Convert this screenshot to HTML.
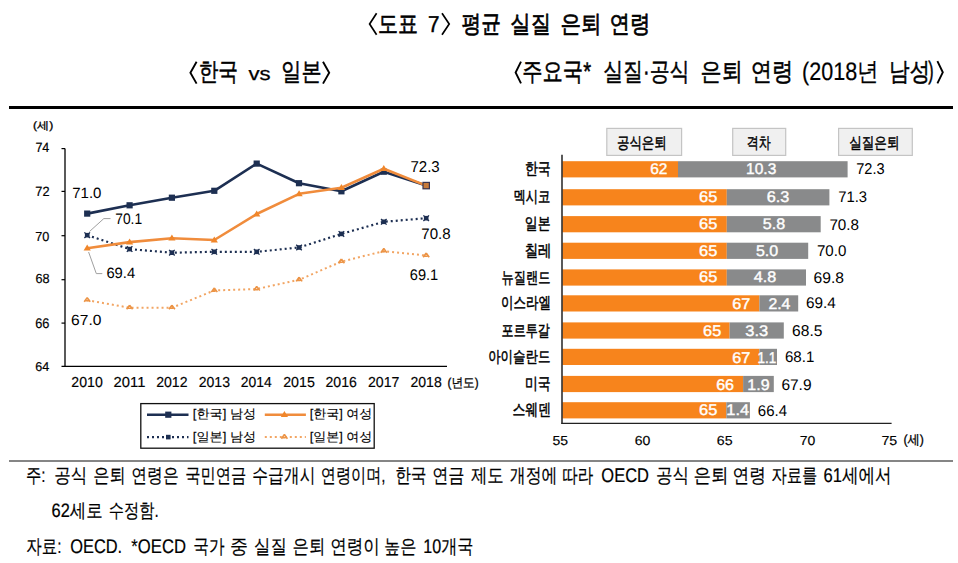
<!DOCTYPE html>
<html><head><meta charset="utf-8"><title>평균 실질 은퇴 연령</title>
<style>html,body{margin:0;padding:0;background:#fff;}svg{display:block;font-family:"Liberation Sans",sans-serif;}</style>
</head><body>
<svg width="958" height="563" viewBox="0 0 958 563" text-rendering="geometricPrecision">
<rect width="958" height="563" fill="#fff"/>
<rect x="9" y="106" width="944" height="3" fill="#000"/>
<rect x="9" y="460" width="944" height="2" fill="#858585"/>
<polyline points="376.6,13.3 369.6,24.0 376.6,34.8" fill="none" stroke="#000" stroke-width="1.7" stroke-linejoin="miter"/>
<polyline points="442.0,13.3 449.2,24.0 442.0,34.8" fill="none" stroke="#000" stroke-width="1.7" stroke-linejoin="miter"/>
<polyline points="196.6,61.8 190.4,72.7 196.6,83.6" fill="none" stroke="#000" stroke-width="1.9" stroke-linejoin="miter"/>
<polyline points="323.0,61.8 329.2,72.7 323.0,83.6" fill="none" stroke="#000" stroke-width="1.9" stroke-linejoin="miter"/>
<polyline points="521.0,61.6 515.6,72.5 521.0,83.4" fill="none" stroke="#000" stroke-width="1.9" stroke-linejoin="miter"/>
<polyline points="937.4,61.2 942.8,72.3 937.4,83.4" fill="none" stroke="#000" stroke-width="1.9" stroke-linejoin="miter"/>
<line x1="65" y1="148.6" x2="65" y2="366.8" stroke="#000" stroke-width="1.3"/>
<line x1="61.5" y1="366.3" x2="447" y2="366.3" stroke="#000" stroke-width="1.3"/>
<line x1="61.5" y1="148.6" x2="65" y2="148.6" stroke="#000" stroke-width="1.2"/>
<line x1="61.5" y1="191.4" x2="65" y2="191.4" stroke="#000" stroke-width="1.2"/>
<line x1="61.5" y1="235.7" x2="65" y2="235.7" stroke="#000" stroke-width="1.2"/>
<line x1="61.5" y1="279.7" x2="65" y2="279.7" stroke="#000" stroke-width="1.2"/>
<line x1="61.5" y1="323.1" x2="65" y2="323.1" stroke="#000" stroke-width="1.2"/>
<polyline points="89.5,231.5 103.8,218.6 110.5,218.6" fill="none" stroke="#a0a0a0" stroke-width="1"/>
<polyline points="88.6,252 96.3,273.6 102.3,273.6" fill="none" stroke="#a0a0a0" stroke-width="1"/>
<polyline points="87.2,300.2 129.6,307.7 171.9,307.7 214.3,290.5 256.7,289.0 299.1,279.8 341.4,261.6 383.8,251.1 426.2,255.6" fill="none" stroke="#f2a563" stroke-width="2" stroke-dasharray="2 3" stroke-linecap="butt"/>
<path d="M87.2 297.6 l-3 4.2 M87.2 297.6 l3 4.2 M85.0 300.8 h3.5" stroke="#ec9446" stroke-width="1.6" fill="none"/>
<path d="M129.6 305.1 l-3 4.2 M129.6 305.1 l3 4.2 M127.4 308.3 h3.5" stroke="#ec9446" stroke-width="1.6" fill="none"/>
<path d="M171.9 305.1 l-3 4.2 M171.9 305.1 l3 4.2 M169.7 308.3 h3.5" stroke="#ec9446" stroke-width="1.6" fill="none"/>
<path d="M214.3 287.9 l-3 4.2 M214.3 287.9 l3 4.2 M212.1 291.1 h3.5" stroke="#ec9446" stroke-width="1.6" fill="none"/>
<path d="M256.7 286.4 l-3 4.2 M256.7 286.4 l3 4.2 M254.5 289.6 h3.5" stroke="#ec9446" stroke-width="1.6" fill="none"/>
<path d="M299.1 277.2 l-3 4.2 M299.1 277.2 l3 4.2 M296.9 280.4 h3.5" stroke="#ec9446" stroke-width="1.6" fill="none"/>
<path d="M341.4 259.0 l-3 4.2 M341.4 259.0 l3 4.2 M339.2 262.2 h3.5" stroke="#ec9446" stroke-width="1.6" fill="none"/>
<path d="M383.8 248.5 l-3 4.2 M383.8 248.5 l3 4.2 M381.6 251.7 h3.5" stroke="#ec9446" stroke-width="1.6" fill="none"/>
<path d="M426.2 253.0 l-3 4.2 M426.2 253.0 l3 4.2 M424.0 256.2 h3.5" stroke="#ec9446" stroke-width="1.6" fill="none"/>
<polyline points="87.2,235.2 129.6,249.1 171.9,252.7 214.3,251.8 256.7,251.8 299.1,247.5 341.4,233.9 383.8,221.8 426.2,218.2" fill="none" stroke="#1d2f52" stroke-width="2.2" stroke-dasharray="2 3"/>
<rect x="84.9" y="232.9" width="4.6" height="4.6" fill="#1d2f52"/>
<path d="M84.4 232.4 l5.6 5.6 M90.0 232.4 l-5.6 5.6" stroke="#1d2f52" stroke-width="1.3" fill="none"/>
<rect x="127.3" y="246.8" width="4.6" height="4.6" fill="#1d2f52"/>
<path d="M126.8 246.3 l5.6 5.6 M132.4 246.3 l-5.6 5.6" stroke="#1d2f52" stroke-width="1.3" fill="none"/>
<rect x="169.6" y="250.4" width="4.6" height="4.6" fill="#1d2f52"/>
<path d="M169.1 249.9 l5.6 5.6 M174.7 249.9 l-5.6 5.6" stroke="#1d2f52" stroke-width="1.3" fill="none"/>
<rect x="212.0" y="249.5" width="4.6" height="4.6" fill="#1d2f52"/>
<path d="M211.5 249.0 l5.6 5.6 M217.1 249.0 l-5.6 5.6" stroke="#1d2f52" stroke-width="1.3" fill="none"/>
<rect x="254.4" y="249.5" width="4.6" height="4.6" fill="#1d2f52"/>
<path d="M253.9 249.0 l5.6 5.6 M259.5 249.0 l-5.6 5.6" stroke="#1d2f52" stroke-width="1.3" fill="none"/>
<rect x="296.8" y="245.2" width="4.6" height="4.6" fill="#1d2f52"/>
<path d="M296.2 244.7 l5.6 5.6 M301.9 244.7 l-5.6 5.6" stroke="#1d2f52" stroke-width="1.3" fill="none"/>
<rect x="339.1" y="231.6" width="4.6" height="4.6" fill="#1d2f52"/>
<path d="M338.6 231.1 l5.6 5.6 M344.2 231.1 l-5.6 5.6" stroke="#1d2f52" stroke-width="1.3" fill="none"/>
<rect x="381.5" y="219.5" width="4.6" height="4.6" fill="#1d2f52"/>
<path d="M381.0 219.0 l5.6 5.6 M386.6 219.0 l-5.6 5.6" stroke="#1d2f52" stroke-width="1.3" fill="none"/>
<rect x="423.9" y="215.9" width="4.6" height="4.6" fill="#1d2f52"/>
<path d="M423.4 215.4 l5.6 5.6 M429.0 215.4 l-5.6 5.6" stroke="#1d2f52" stroke-width="1.3" fill="none"/>
<polyline points="87.2,213.6 129.6,205.3 171.9,197.7 214.3,190.8 256.7,163.6 299.1,183.2 341.4,191.3 383.8,171.7 426.2,185.6" fill="none" stroke="#1d2f52" stroke-width="2.6" stroke-linejoin="round"/>
<rect x="84.1" y="210.5" width="6.2" height="6.2" fill="#1d2f52"/>
<rect x="126.5" y="202.2" width="6.2" height="6.2" fill="#1d2f52"/>
<rect x="168.8" y="194.6" width="6.2" height="6.2" fill="#1d2f52"/>
<rect x="211.2" y="187.7" width="6.2" height="6.2" fill="#1d2f52"/>
<rect x="253.6" y="160.5" width="6.2" height="6.2" fill="#1d2f52"/>
<rect x="295.9" y="180.1" width="6.2" height="6.2" fill="#1d2f52"/>
<rect x="338.3" y="188.2" width="6.2" height="6.2" fill="#1d2f52"/>
<rect x="380.7" y="168.6" width="6.2" height="6.2" fill="#1d2f52"/>
<rect x="423.1" y="182.5" width="6.2" height="6.2" fill="#1d2f52"/>
<polyline points="87.2,248.2 129.6,242.1 171.9,238.2 214.3,240.0 256.7,214.0 299.1,193.8 341.4,187.7 383.8,168.7 426.2,185.6" fill="none" stroke="#f08c3c" stroke-width="2.6" stroke-linejoin="round"/>
<path d="M87.2 244.6 l3.6 6 h-7.2z" fill="#f0862a"/>
<path d="M129.6 238.5 l3.6 6 h-7.2z" fill="#f0862a"/>
<path d="M171.9 234.6 l3.6 6 h-7.2z" fill="#f0862a"/>
<path d="M214.3 236.4 l3.6 6 h-7.2z" fill="#f0862a"/>
<path d="M256.7 210.4 l3.6 6 h-7.2z" fill="#f0862a"/>
<path d="M299.1 190.2 l3.6 6 h-7.2z" fill="#f0862a"/>
<path d="M341.4 184.1 l3.6 6 h-7.2z" fill="#f0862a"/>
<path d="M383.8 165.1 l3.6 6 h-7.2z" fill="#f0862a"/>
<rect x="423.0" y="182.4" width="6.4" height="6.4" fill="#c87a3a" stroke="#3a3550" stroke-width="1.2"/>
<rect x="140.8" y="403.6" width="233.4" height="44.6" fill="#fff" stroke="#111" stroke-width="1.3"/>
<line x1="147" y1="414.7" x2="188.5" y2="414.7" stroke="#1d2f52" stroke-width="2.6"/>
<rect x="165.2" y="411.6" width="6.2" height="6.2" fill="#1d2f52"/>
<line x1="264.8" y1="414.7" x2="305.9" y2="414.7" stroke="#f08c3c" stroke-width="2.6"/>
<path d="M284.4 411.1 l3.6 6 h-7.2z" fill="#f0862a"/>
<line x1="147" y1="437.1" x2="188.5" y2="437.1" stroke="#1d2f52" stroke-width="2.2" stroke-dasharray="2 3"/>
<rect x="166" y="434.8" width="4.6" height="4.6" fill="#1d2f52"/>
<line x1="264.8" y1="437.1" x2="305.9" y2="437.1" stroke="#f2a563" stroke-width="2" stroke-dasharray="2 3"/>
<path d="M284.4 434.5 l-3 4.2 M284.4 434.5 l3 4.2 M282.2 437.7 h3.5" stroke="#ec9446" stroke-width="1.6" fill="none"/>
<rect x="606.8" y="128.4" width="74.8" height="27" fill="#f0f0f0" stroke="#c4c4c4" stroke-width="1.2"/>
<rect x="732.7" y="128.4" width="53.0" height="27" fill="#f0f0f0" stroke="#c4c4c4" stroke-width="1.2"/>
<rect x="838.6" y="128.4" width="73.7" height="27" fill="#f0f0f0" stroke="#c4c4c4" stroke-width="1.2"/>
<rect x="562.5" y="161.2" width="115.5" height="16.2" fill="#f7841c"/>
<rect x="678.0" y="161.2" width="169.6" height="16.2" fill="#898a8b"/>
<rect x="562.5" y="189.2" width="164.3" height="16.2" fill="#f7841c"/>
<rect x="726.8" y="189.2" width="102.6" height="16.2" fill="#898a8b"/>
<rect x="562.5" y="216.1" width="164.3" height="16.2" fill="#f7841c"/>
<rect x="726.8" y="216.1" width="93.9" height="16.2" fill="#898a8b"/>
<rect x="562.5" y="242.7" width="164.3" height="16.2" fill="#f7841c"/>
<rect x="726.8" y="242.7" width="81.4" height="16.2" fill="#898a8b"/>
<rect x="562.5" y="269.4" width="164.3" height="16.2" fill="#f7841c"/>
<rect x="726.8" y="269.4" width="79.2" height="16.2" fill="#898a8b"/>
<rect x="562.5" y="295.3" width="196.9" height="16.2" fill="#f7841c"/>
<rect x="759.4" y="295.3" width="38.8" height="16.2" fill="#898a8b"/>
<rect x="562.5" y="322.4" width="167.1" height="16.2" fill="#f7841c"/>
<rect x="729.6" y="322.4" width="54.2" height="16.2" fill="#898a8b"/>
<rect x="562.5" y="348.8" width="196.9" height="16.2" fill="#f7841c"/>
<rect x="759.4" y="348.8" width="17.6" height="16.2" fill="#898a8b"/>
<rect x="562.5" y="375.9" width="180.6" height="16.2" fill="#f7841c"/>
<rect x="743.1" y="375.9" width="30.7" height="16.2" fill="#898a8b"/>
<rect x="562.5" y="402.2" width="163.8" height="16.2" fill="#f7841c"/>
<rect x="726.3" y="402.2" width="23.6" height="16.2" fill="#898a8b"/>
<line x1="562" y1="154.8" x2="562" y2="424" stroke="#000" stroke-width="1.3"/>
<line x1="561.4" y1="423.4" x2="891.6" y2="423.4" stroke="#222" stroke-width="1.3"/>
<text x="377.94" y="32.12" font-size="24.28" fill="#000" stroke="#000" stroke-width="0.55" textLength="39.98" lengthAdjust="spacingAndGlyphs">도표</text>
<text x="461.58" y="32.12" font-size="24.28" fill="#000" stroke="#000" stroke-width="0.70" textLength="39.27" lengthAdjust="spacingAndGlyphs">평균</text>
<text x="510.37" y="32.12" font-size="24.28" fill="#000" stroke="#000" stroke-width="0.70" textLength="40.53" lengthAdjust="spacingAndGlyphs">실질</text>
<text x="560.46" y="32.12" font-size="24.28" fill="#000" stroke="#000" stroke-width="0.70" textLength="41.05" lengthAdjust="spacingAndGlyphs">은퇴</text>
<text x="609.57" y="32.12" font-size="24.28" fill="#000" stroke="#000" stroke-width="0.70" textLength="40.87" lengthAdjust="spacingAndGlyphs">연령</text>
<text x="427.88" y="31.93" font-size="23.05" fill="#000" stroke="#000" stroke-width="0.50" textLength="11.47" lengthAdjust="spacingAndGlyphs">7</text>
<text x="198.67" y="80.11" font-size="25.02" fill="#000" stroke="#000" stroke-width="0.50" textLength="39.40" lengthAdjust="spacingAndGlyphs">한국</text>
<text x="281.37" y="80.11" font-size="25.02" fill="#000" stroke="#000" stroke-width="0.50" textLength="40.13" lengthAdjust="spacingAndGlyphs">일본</text>
<text x="248.52" y="79.78" font-size="18.84" fill="#000" stroke="#000" stroke-width="0.25" textLength="22.19" lengthAdjust="spacingAndGlyphs">vs</text>
<text x="522.29" y="80.38" font-size="25.36" fill="#000" stroke="#000" stroke-width="0.50" textLength="68.76" lengthAdjust="spacingAndGlyphs">주요국*</text>
<text x="603.21" y="80.38" font-size="25.36" fill="#000" stroke="#000" stroke-width="0.50" textLength="86.26" lengthAdjust="spacingAndGlyphs">실질·공식</text>
<text x="700.61" y="80.38" font-size="25.36" fill="#000" stroke="#000" stroke-width="0.50" textLength="42.17" lengthAdjust="spacingAndGlyphs">은퇴</text>
<text x="750.72" y="80.38" font-size="25.36" fill="#000" stroke="#000" stroke-width="0.50" textLength="42.54" lengthAdjust="spacingAndGlyphs">연령</text>
<text x="889.04" y="80.38" font-size="25.36" fill="#000" stroke="#000" stroke-width="0.50" textLength="41.13" lengthAdjust="spacingAndGlyphs">남성</text>
<text x="802.03" y="80.32" font-size="25.22" fill="#000" stroke="#000" stroke-width="0.20" textLength="76.63" lengthAdjust="spacingAndGlyphs">(2018년</text>
<text x="928.36" y="79.18" font-size="25.14" fill="#000" stroke="#000" stroke-width="0.50" textLength="5.34" lengthAdjust="spacingAndGlyphs">)</text>
<text x="33.06" y="129.26" font-size="10.62" fill="#000" stroke="#000" stroke-width="0.30" textLength="20.14" lengthAdjust="spacingAndGlyphs">(세)</text>
<text x="35.40" y="151.81" font-size="13.30" fill="#000" stroke="#000" stroke-width="0.20" textLength="13.96" lengthAdjust="spacingAndGlyphs">74</text>
<text x="35.32" y="195.80" font-size="13.35" fill="#000" stroke="#000" stroke-width="0.20" textLength="14.20" lengthAdjust="spacingAndGlyphs">72</text>
<text x="35.27" y="240.55" font-size="13.07" fill="#000" stroke="#000" stroke-width="0.20" textLength="14.11" lengthAdjust="spacingAndGlyphs">70</text>
<text x="35.40" y="283.43" font-size="13.27" fill="#000" stroke="#000" stroke-width="0.20" textLength="14.09" lengthAdjust="spacingAndGlyphs">68</text>
<text x="35.24" y="328.36" font-size="13.81" fill="#000" stroke="#000" stroke-width="0.20" textLength="14.27" lengthAdjust="spacingAndGlyphs">66</text>
<text x="35.30" y="370.84" font-size="12.88" fill="#000" stroke="#000" stroke-width="0.20" textLength="14.03" lengthAdjust="spacingAndGlyphs">64</text>
<text x="71.37" y="386.57" font-size="14.42" fill="#000" stroke="#000" stroke-width="0.15" textLength="31.40" lengthAdjust="spacingAndGlyphs">2010</text>
<text x="113.58" y="386.57" font-size="14.42" fill="#000" stroke="#000" stroke-width="0.15" textLength="31.78" lengthAdjust="spacingAndGlyphs">2011</text>
<text x="156.16" y="386.57" font-size="14.42" fill="#000" stroke="#000" stroke-width="0.15" textLength="31.44" lengthAdjust="spacingAndGlyphs">2012</text>
<text x="198.71" y="386.57" font-size="14.42" fill="#000" stroke="#000" stroke-width="0.15" textLength="31.33" lengthAdjust="spacingAndGlyphs">2013</text>
<text x="240.85" y="386.57" font-size="14.42" fill="#000" stroke="#000" stroke-width="0.15" textLength="31.04" lengthAdjust="spacingAndGlyphs">2014</text>
<text x="283.15" y="386.57" font-size="14.42" fill="#000" stroke="#000" stroke-width="0.15" textLength="31.68" lengthAdjust="spacingAndGlyphs">2015</text>
<text x="325.45" y="386.57" font-size="14.42" fill="#000" stroke="#000" stroke-width="0.15" textLength="31.45" lengthAdjust="spacingAndGlyphs">2016</text>
<text x="367.95" y="386.57" font-size="14.42" fill="#000" stroke="#000" stroke-width="0.15" textLength="31.49" lengthAdjust="spacingAndGlyphs">2017</text>
<text x="410.47" y="386.57" font-size="14.42" fill="#000" stroke="#000" stroke-width="0.15" textLength="31.32" lengthAdjust="spacingAndGlyphs">2018</text>
<text x="447.54" y="386.51" font-size="12.95" fill="#000" stroke="#000" stroke-width="0.30" textLength="31.17" lengthAdjust="spacingAndGlyphs">(년도)</text>
<text x="72.29" y="198.33" font-size="14.89" fill="#000" stroke="#000" stroke-width="0.00" textLength="29.18" lengthAdjust="spacingAndGlyphs">71.0</text>
<text x="115.21" y="223.78" font-size="15.29" fill="#000" stroke="#000" stroke-width="0.00" textLength="26.90" lengthAdjust="spacingAndGlyphs">70.1</text>
<text x="106.42" y="278.20" font-size="14.96" fill="#000" stroke="#000" stroke-width="0.00" textLength="28.70" lengthAdjust="spacingAndGlyphs">69.4</text>
<text x="71.14" y="325.12" font-size="14.65" fill="#000" stroke="#000" stroke-width="0.00" textLength="30.29" lengthAdjust="spacingAndGlyphs">67.0</text>
<text x="410.48" y="171.98" font-size="15.73" fill="#000" stroke="#000" stroke-width="0.00" textLength="29.27" lengthAdjust="spacingAndGlyphs">72.3</text>
<text x="421.36" y="239.08" font-size="15.28" fill="#000" stroke="#000" stroke-width="0.00" textLength="29.34" lengthAdjust="spacingAndGlyphs">70.8</text>
<text x="409.76" y="279.66" font-size="15.27" fill="#000" stroke="#000" stroke-width="0.00" textLength="28.45" lengthAdjust="spacingAndGlyphs">69.1</text>
<text x="192.87" y="417.80" font-size="12.60" fill="#000" stroke="#000" stroke-width="0.15" textLength="63.29" lengthAdjust="spacingAndGlyphs">[한국] 남성</text>
<text x="309.68" y="417.80" font-size="12.60" fill="#000" stroke="#000" stroke-width="0.15" textLength="62.61" lengthAdjust="spacingAndGlyphs">[한국] 여성</text>
<text x="192.87" y="440.56" font-size="12.60" fill="#000" stroke="#000" stroke-width="0.15" textLength="63.29" lengthAdjust="spacingAndGlyphs">[일본] 남성</text>
<text x="309.68" y="440.56" font-size="12.60" fill="#000" stroke="#000" stroke-width="0.15" textLength="62.61" lengthAdjust="spacingAndGlyphs">[일본] 여성</text>
<text x="616.95" y="147.61" font-size="15.70" fill="#000" stroke="#000" stroke-width="0.45" textLength="49.81" lengthAdjust="spacingAndGlyphs">공식은퇴</text>
<text x="746.82" y="147.61" font-size="15.70" fill="#000" stroke="#000" stroke-width="0.45" textLength="23.94" lengthAdjust="spacingAndGlyphs">격차</text>
<text x="849.20" y="147.61" font-size="15.70" fill="#000" stroke="#000" stroke-width="0.45" textLength="50.25" lengthAdjust="spacingAndGlyphs">실질은퇴</text>
<text x="524.93" y="173.80" font-size="16.26" fill="#000" stroke="#000" stroke-width="0.50" textLength="25.74" lengthAdjust="spacingAndGlyphs">한국</text>
<text x="650.24" y="174.28" font-size="15.59" fill="#fff" stroke="#fff" stroke-width="0.40" textLength="17.19" lengthAdjust="spacingAndGlyphs">62</text>
<text x="746.12" y="174.28" font-size="15.59" fill="#fff" stroke="#fff" stroke-width="0.40" textLength="30.14" lengthAdjust="spacingAndGlyphs">10.3</text>
<text x="856.20" y="174.34" font-size="15.62" fill="#000" stroke="#000" stroke-width="0.00" textLength="28.41" lengthAdjust="spacingAndGlyphs">72.3</text>
<text x="513.43" y="202.41" font-size="16.16" fill="#000" stroke="#000" stroke-width="0.50" textLength="36.79" lengthAdjust="spacingAndGlyphs">멕시코</text>
<text x="699.06" y="202.06" font-size="15.45" fill="#fff" stroke="#fff" stroke-width="0.40" textLength="18.30" lengthAdjust="spacingAndGlyphs">65</text>
<text x="766.84" y="202.06" font-size="15.45" fill="#fff" stroke="#fff" stroke-width="0.40" textLength="22.59" lengthAdjust="spacingAndGlyphs">6.3</text>
<text x="838.24" y="202.40" font-size="15.43" fill="#000" stroke="#000" stroke-width="0.00" textLength="28.89" lengthAdjust="spacingAndGlyphs">71.3</text>
<text x="524.79" y="229.47" font-size="16.51" fill="#000" stroke="#000" stroke-width="0.50" textLength="25.69" lengthAdjust="spacingAndGlyphs">일본</text>
<text x="699.06" y="229.35" font-size="15.43" fill="#fff" stroke="#fff" stroke-width="0.40" textLength="18.30" lengthAdjust="spacingAndGlyphs">65</text>
<text x="762.78" y="229.35" font-size="15.43" fill="#fff" stroke="#fff" stroke-width="0.40" textLength="22.36" lengthAdjust="spacingAndGlyphs">5.8</text>
<text x="829.40" y="229.62" font-size="15.46" fill="#000" stroke="#000" stroke-width="0.00" textLength="29.64" lengthAdjust="spacingAndGlyphs">70.8</text>
<text x="524.65" y="255.83" font-size="16.28" fill="#000" stroke="#000" stroke-width="0.50" textLength="26.84" lengthAdjust="spacingAndGlyphs">칠레</text>
<text x="699.08" y="255.55" font-size="15.50" fill="#fff" stroke="#fff" stroke-width="0.40" textLength="18.28" lengthAdjust="spacingAndGlyphs">65</text>
<text x="755.98" y="255.55" font-size="15.50" fill="#fff" stroke="#fff" stroke-width="0.40" textLength="22.27" lengthAdjust="spacingAndGlyphs">5.0</text>
<text x="816.98" y="256.28" font-size="15.55" fill="#000" stroke="#000" stroke-width="0.00" textLength="29.32" lengthAdjust="spacingAndGlyphs">70.0</text>
<text x="501.62" y="282.60" font-size="16.15" fill="#000" stroke="#000" stroke-width="0.50" textLength="48.86" lengthAdjust="spacingAndGlyphs">뉴질랜드</text>
<text x="699.06" y="282.47" font-size="15.45" fill="#fff" stroke="#fff" stroke-width="0.40" textLength="18.30" lengthAdjust="spacingAndGlyphs">65</text>
<text x="753.85" y="282.47" font-size="15.45" fill="#fff" stroke="#fff" stroke-width="0.40" textLength="22.47" lengthAdjust="spacingAndGlyphs">4.8</text>
<text x="813.63" y="283.10" font-size="15.45" fill="#000" stroke="#000" stroke-width="0.00" textLength="30.43" lengthAdjust="spacingAndGlyphs">69.8</text>
<text x="501.10" y="307.88" font-size="16.19" fill="#000" stroke="#000" stroke-width="0.50" textLength="49.81" lengthAdjust="spacingAndGlyphs">이스라엘</text>
<text x="732.31" y="309.05" font-size="15.47" fill="#fff" stroke="#fff" stroke-width="0.40" textLength="18.07" lengthAdjust="spacingAndGlyphs">67</text>
<text x="768.41" y="309.05" font-size="15.47" fill="#fff" stroke="#fff" stroke-width="0.40" textLength="21.98" lengthAdjust="spacingAndGlyphs">2.4</text>
<text x="806.01" y="308.39" font-size="15.44" fill="#000" stroke="#000" stroke-width="0.00" textLength="29.77" lengthAdjust="spacingAndGlyphs">69.4</text>
<text x="501.62" y="335.78" font-size="16.30" fill="#000" stroke="#000" stroke-width="0.50" textLength="48.19" lengthAdjust="spacingAndGlyphs">포르투갈</text>
<text x="703.09" y="335.55" font-size="15.57" fill="#fff" stroke="#fff" stroke-width="0.40" textLength="18.10" lengthAdjust="spacingAndGlyphs">65</text>
<text x="745.28" y="335.55" font-size="15.57" fill="#fff" stroke="#fff" stroke-width="0.40" textLength="22.87" lengthAdjust="spacingAndGlyphs">3.3</text>
<text x="792.09" y="335.73" font-size="15.64" fill="#000" stroke="#000" stroke-width="0.00" textLength="30.29" lengthAdjust="spacingAndGlyphs">68.5</text>
<text x="488.16" y="361.50" font-size="16.18" fill="#000" stroke="#000" stroke-width="0.50" textLength="62.31" lengthAdjust="spacingAndGlyphs">아이슬란드</text>
<text x="732.31" y="362.56" font-size="15.54" fill="#fff" stroke="#fff" stroke-width="0.40" textLength="18.06" lengthAdjust="spacingAndGlyphs">67</text>
<text x="757.58" y="362.56" font-size="15.54" fill="#fff" stroke="#fff" stroke-width="0.40" textLength="18.75" lengthAdjust="spacingAndGlyphs">1.1</text>
<text x="784.97" y="362.47" font-size="15.41" fill="#000" stroke="#000" stroke-width="0.00" textLength="29.36" lengthAdjust="spacingAndGlyphs">68.1</text>
<text x="525.06" y="388.61" font-size="16.22" fill="#000" stroke="#000" stroke-width="0.50" textLength="25.56" lengthAdjust="spacingAndGlyphs">미국</text>
<text x="716.15" y="389.59" font-size="15.34" fill="#fff" stroke="#fff" stroke-width="0.40" textLength="17.91" lengthAdjust="spacingAndGlyphs">66</text>
<text x="747.32" y="389.59" font-size="15.34" fill="#fff" stroke="#fff" stroke-width="0.40" textLength="22.20" lengthAdjust="spacingAndGlyphs">1.9</text>
<text x="781.40" y="389.60" font-size="15.45" fill="#000" stroke="#000" stroke-width="0.00" textLength="30.14" lengthAdjust="spacingAndGlyphs">67.9</text>
<text x="512.59" y="415.24" font-size="16.24" fill="#000" stroke="#000" stroke-width="0.50" textLength="38.36" lengthAdjust="spacingAndGlyphs">스웨덴</text>
<text x="699.06" y="415.09" font-size="15.49" fill="#fff" stroke="#fff" stroke-width="0.40" textLength="18.29" lengthAdjust="spacingAndGlyphs">65</text>
<text x="726.37" y="415.09" font-size="15.49" fill="#fff" stroke="#fff" stroke-width="0.40" textLength="22.73" lengthAdjust="spacingAndGlyphs">1.4</text>
<text x="757.83" y="415.64" font-size="15.56" fill="#000" stroke="#000" stroke-width="0.00" textLength="29.21" lengthAdjust="spacingAndGlyphs">66.4</text>
<text x="552.51" y="444.73" font-size="13.04" fill="#000" stroke="#000" stroke-width="0.15" textLength="15.61" lengthAdjust="spacingAndGlyphs">55</text>
<text x="634.81" y="444.73" font-size="13.04" fill="#000" stroke="#000" stroke-width="0.15" textLength="15.65" lengthAdjust="spacingAndGlyphs">60</text>
<text x="716.77" y="444.73" font-size="13.04" fill="#000" stroke="#000" stroke-width="0.15" textLength="15.80" lengthAdjust="spacingAndGlyphs">65</text>
<text x="799.70" y="444.73" font-size="13.04" fill="#000" stroke="#000" stroke-width="0.15" textLength="15.55" lengthAdjust="spacingAndGlyphs">70</text>
<text x="881.44" y="444.73" font-size="13.04" fill="#000" stroke="#000" stroke-width="0.15" textLength="15.84" lengthAdjust="spacingAndGlyphs">75</text>
<text x="903.43" y="443.71" font-size="13.27" fill="#000" stroke="#000" stroke-width="0.30" textLength="20.54" lengthAdjust="spacingAndGlyphs">(세)</text>
<text x="26.01" y="481.87" font-size="19.84" fill="#000" stroke="#000" stroke-width="0.20" textLength="19.59" lengthAdjust="spacingAndGlyphs">주:</text>
<text x="54.30" y="481.87" font-size="19.84" fill="#000" stroke="#000" stroke-width="0.20" textLength="32.95" lengthAdjust="spacingAndGlyphs">공식</text>
<text x="93.26" y="481.87" font-size="19.84" fill="#000" stroke="#000" stroke-width="0.20" textLength="32.42" lengthAdjust="spacingAndGlyphs">은퇴</text>
<text x="131.35" y="481.87" font-size="19.84" fill="#000" stroke="#000" stroke-width="0.20" textLength="47.31" lengthAdjust="spacingAndGlyphs">연령은</text>
<text x="185.33" y="481.87" font-size="19.84" fill="#000" stroke="#000" stroke-width="0.20" textLength="60.92" lengthAdjust="spacingAndGlyphs">국민연금</text>
<text x="252.33" y="481.87" font-size="19.84" fill="#000" stroke="#000" stroke-width="0.20" textLength="63.07" lengthAdjust="spacingAndGlyphs">수급개시</text>
<text x="320.86" y="481.87" font-size="19.84" fill="#000" stroke="#000" stroke-width="0.20" textLength="64.66" lengthAdjust="spacingAndGlyphs">연령이며,</text>
<text x="395.16" y="481.87" font-size="19.84" fill="#000" stroke="#000" stroke-width="0.20" textLength="31.38" lengthAdjust="spacingAndGlyphs">한국</text>
<text x="432.18" y="481.87" font-size="19.84" fill="#000" stroke="#000" stroke-width="0.20" textLength="32.31" lengthAdjust="spacingAndGlyphs">연금</text>
<text x="470.91" y="481.87" font-size="19.84" fill="#000" stroke="#000" stroke-width="0.20" textLength="32.76" lengthAdjust="spacingAndGlyphs">제도</text>
<text x="509.87" y="481.87" font-size="19.84" fill="#000" stroke="#000" stroke-width="0.20" textLength="47.55" lengthAdjust="spacingAndGlyphs">개정에</text>
<text x="562.37" y="481.87" font-size="19.84" fill="#000" stroke="#000" stroke-width="0.20" textLength="31.02" lengthAdjust="spacingAndGlyphs">따라</text>
<text x="601.36" y="481.87" font-size="19.84" fill="#000" stroke="#000" stroke-width="0.20" textLength="47.55" lengthAdjust="spacingAndGlyphs">OECD</text>
<text x="655.98" y="481.87" font-size="19.84" fill="#000" stroke="#000" stroke-width="0.20" textLength="33.00" lengthAdjust="spacingAndGlyphs">공식</text>
<text x="693.59" y="481.87" font-size="19.84" fill="#000" stroke="#000" stroke-width="0.20" textLength="35.03" lengthAdjust="spacingAndGlyphs">은퇴</text>
<text x="732.49" y="481.87" font-size="19.84" fill="#000" stroke="#000" stroke-width="0.20" textLength="33.42" lengthAdjust="spacingAndGlyphs">연령</text>
<text x="771.55" y="481.87" font-size="19.84" fill="#000" stroke="#000" stroke-width="0.20" textLength="45.82" lengthAdjust="spacingAndGlyphs">자료를</text>
<text x="823.46" y="481.87" font-size="19.84" fill="#000" stroke="#000" stroke-width="0.20" textLength="68.25" lengthAdjust="spacingAndGlyphs">61세에서</text>
<text x="51.56" y="516.81" font-size="19.42" fill="#000" stroke="#000" stroke-width="0.20" textLength="51.01" lengthAdjust="spacingAndGlyphs">62세로</text>
<text x="108.86" y="516.81" font-size="19.42" fill="#000" stroke="#000" stroke-width="0.20" textLength="49.98" lengthAdjust="spacingAndGlyphs">수정함.</text>
<text x="26.20" y="552.91" font-size="19.79" fill="#000" stroke="#000" stroke-width="0.20" textLength="35.25" lengthAdjust="spacingAndGlyphs">자료:</text>
<text x="70.20" y="552.91" font-size="19.79" fill="#000" stroke="#000" stroke-width="0.20" textLength="51.95" lengthAdjust="spacingAndGlyphs">OECD.</text>
<text x="131.33" y="552.91" font-size="19.79" fill="#000" stroke="#000" stroke-width="0.20" textLength="54.65" lengthAdjust="spacingAndGlyphs">*OECD</text>
<text x="193.31" y="552.91" font-size="19.79" fill="#000" stroke="#000" stroke-width="0.20" textLength="31.27" lengthAdjust="spacingAndGlyphs">국가</text>
<text x="230.04" y="552.91" font-size="19.79" fill="#000" stroke="#000" stroke-width="0.20" textLength="17.94" lengthAdjust="spacingAndGlyphs">중</text>
<text x="254.10" y="552.91" font-size="19.79" fill="#000" stroke="#000" stroke-width="0.20" textLength="32.77" lengthAdjust="spacingAndGlyphs">실질</text>
<text x="292.62" y="552.91" font-size="19.79" fill="#000" stroke="#000" stroke-width="0.20" textLength="32.69" lengthAdjust="spacingAndGlyphs">은퇴</text>
<text x="330.31" y="552.91" font-size="19.79" fill="#000" stroke="#000" stroke-width="0.20" textLength="49.60" lengthAdjust="spacingAndGlyphs">연령이</text>
<text x="384.10" y="552.91" font-size="19.79" fill="#000" stroke="#000" stroke-width="0.20" textLength="32.49" lengthAdjust="spacingAndGlyphs">높은</text>
<text x="423.21" y="552.91" font-size="19.79" fill="#000" stroke="#000" stroke-width="0.20" textLength="50.20" lengthAdjust="spacingAndGlyphs">10개국</text>
</svg>
</body></html>
